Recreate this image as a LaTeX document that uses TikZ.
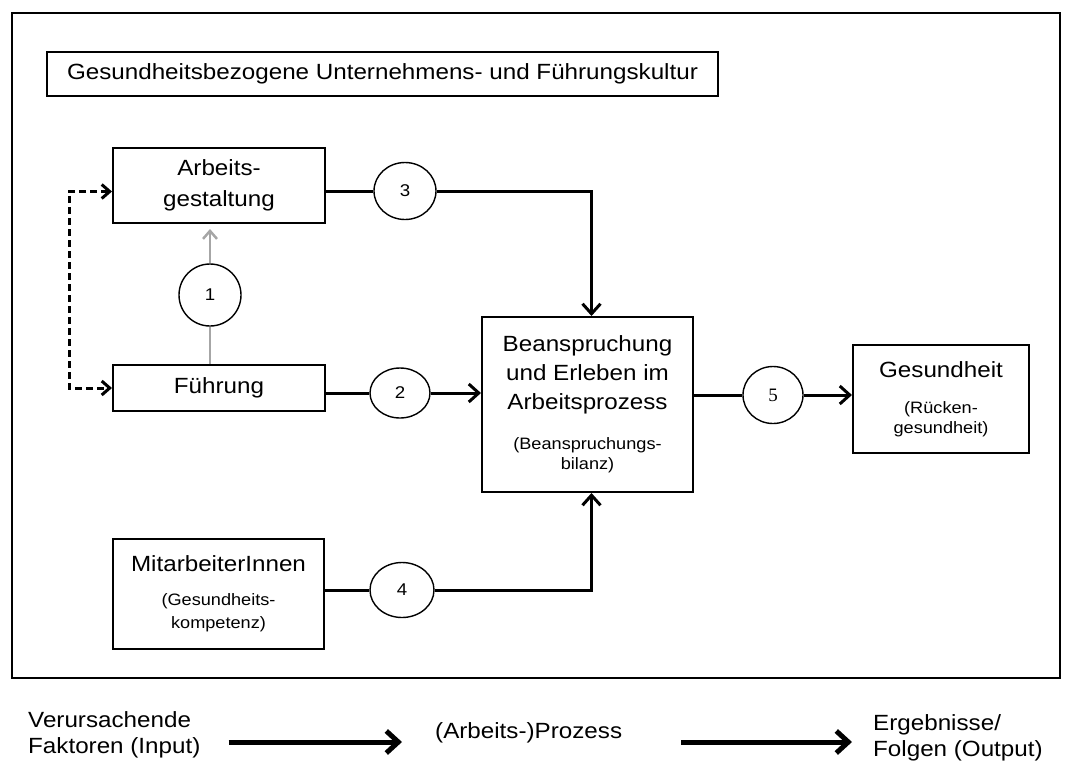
\documentclass[tikz,border=0pt]{standalone}
\usepackage{fontspec}
\setmainfont{Liberation Sans}[FakeStretch=1.1]
\newfontfamily\serifnum{Liberation Serif}
\usetikzlibrary{arrows.meta,shapes.geometric}

\tikzset{
  box/.style={draw, line width=2pt, inner sep=0pt, align=center,
    font=\fontsize{22}{29}\selectfont},
  num/.style={draw, ellipse, line width=1.4pt, inner sep=0pt,
    minimum width=62pt, minimum height=57pt,
    font=\fontsize{17}{17}\selectfont},
  conn/.style={line width=3pt},
  tipconn/.style={conn, -{Straight Barb[length=10pt,width=18pt]}},
  greyconn/.style={line width=2.5pt, draw=black!35},
  dashconn/.style={line width=3pt, dash pattern=on 7pt off 4pt,
    {Straight Barb[length=8pt,width=14pt]}-{Straight Barb[length=8pt,width=14pt]}},
  flow/.style={line width=5pt, -{Straight Barb[length=12pt,width=22pt]}},
  legend/.style={inner sep=0pt, align=left, font=\fontsize{22}{26}\selectfont}
}
\newcommand{\subtext}{\fontsize{16.5}{20}\selectfont}

\begin{document}
\begin{tikzpicture}[x=1pt,y=-1pt]
\useasboundingbox (0,0) rectangle (1066,764);

% outer frame and culture box
\node[draw, line width=2.5pt, minimum width=1048pt, minimum height=665pt] (frame) at (536,345.5) {};
\node[box, minimum width=671pt, minimum height=44pt] (kultur) at (382.5,74)
  {Gesundheitsbezogene Unternehmens- und Führungskultur};

% boxes
\node[box, minimum width=212pt, minimum height=75pt, font=\fontsize{22}{31}\selectfont] (arb) at (219,185.5) {Arbeits-\\gestaltung};
\node[box, minimum width=212pt, minimum height=46pt] (fuehr) at (219,388) {Führung};
\node[box, minimum width=211pt, minimum height=110pt] (mit) at (218.5,594)
  {MitarbeiterInnen\\[5pt]\subtext (Gesundheits-\\[-6pt]\subtext kompetenz)};
\node[box, minimum width=211pt, minimum height=175pt] (bean) at (587.5,404.5)
  {Beanspruchung\\und Erleben im\\Arbeitsprozess\\[11pt]\subtext (Beanspruchungs-\\[-9pt]\subtext bilanz)};
\node[box, minimum width=176pt, minimum height=108pt] (ges) at (941,399)
  {Gesundheit\\[7pt]\subtext (Rücken-\\[-9pt]\subtext gesundheit)};

% numbered ellipses
\node[num, minimum height=62pt] (c1) at (210,295) {1};
\node[num, minimum width=60pt, minimum height=50pt] (c2) at (400,393) {2};
\node[num] (c3) at (405,191) {3};
\node[num, minimum width=64pt, minimum height=55pt] (c4) at (402,590) {4};
\node[num, minimum width=60pt, font=\serifnum\fontsize{19}{19}\selectfont] (c5) at (773,395) {5};

% connectors
\draw[dashconn] ([yshift=-6pt]arb.west) -- ++(-43,0) |- (fuehr.west);
\draw[greyconn] (fuehr.north -| c1) -- (c1.south);
\draw[greyconn, -{Straight Barb[length=8pt,width=14pt]}] (c1.north) -- ([yshift=-5pt]arb.south -| c1);

\draw[conn] (arb.east |- c3) -- (c3.west);
\draw[tipconn] (c3.east) -| ([xshift=4pt]bean.north);

\draw[conn] (fuehr.east |- c2) -- (c2.west);
\draw[tipconn] (c2.east) -- (bean.west |- c2);

\draw[conn] (mit.east |- c4) -- (c4.west);
\draw[tipconn] (c4.east) -| ([xshift=4pt]bean.south);

\draw[conn] (bean.east |- c5) -- (c5.west);
\draw[tipconn] (c5.east) -- (ges.west |- c5);

% input - process - output legend
\node[legend, anchor=west] (inp) at (28,735) {Verursachende\\Faktoren (Input)};
\node[legend, anchor=west] (proc) at (435,733) {(Arbeits-)Prozess};
\node[legend, anchor=west] (outp) at (873,737.5) {Ergebnisse/\\Folgen (Output)};

\draw[flow, shorten <=28pt, shorten >=33pt] ([yshift=-7pt]inp.east) -- ([yshift=-7pt]inp.east -| proc.west);
\draw[flow, shorten <=59pt, shorten >=21pt] ([yshift=-9pt]proc.east) -- ([yshift=-9pt]proc.east -| outp.west);
\end{tikzpicture}
\end{document}
